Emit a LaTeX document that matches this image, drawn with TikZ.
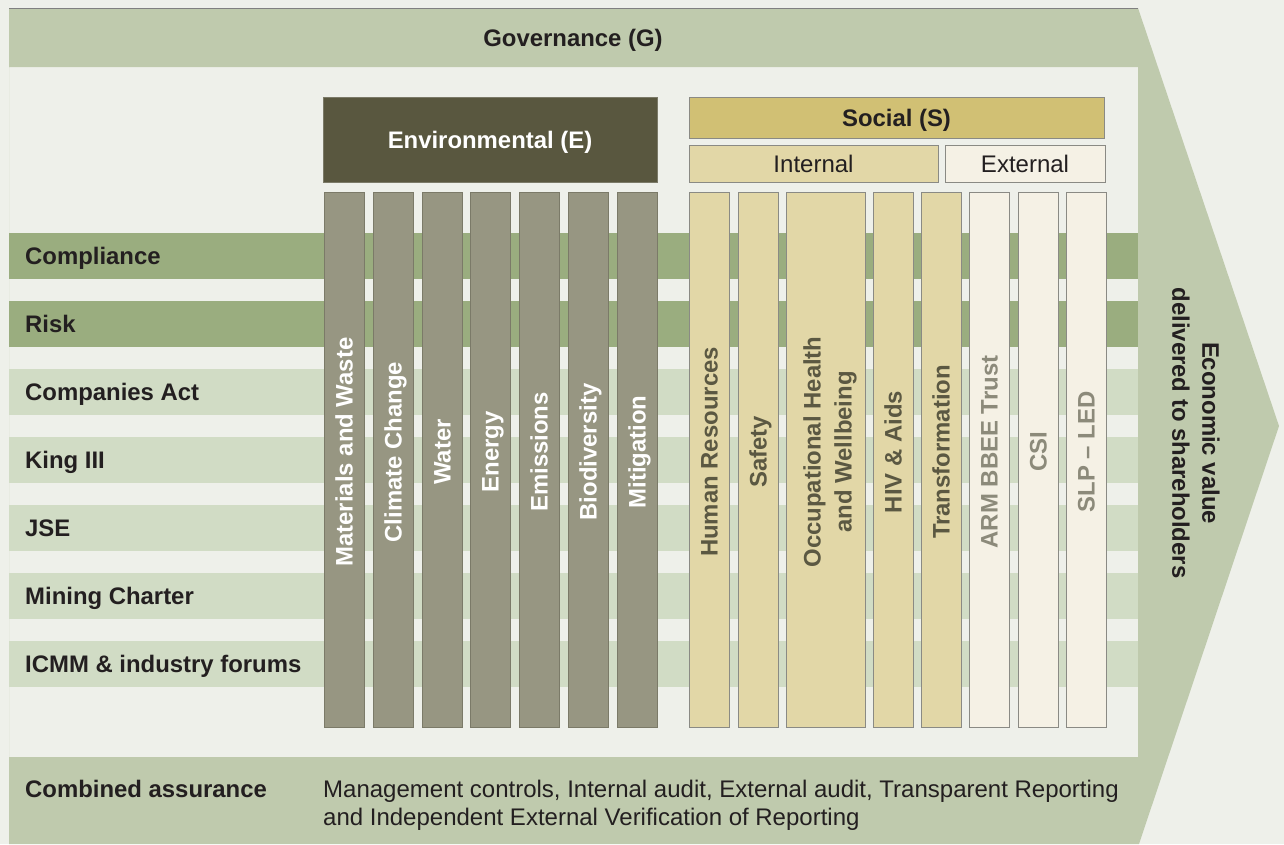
\documentclass[tikz,border=0pt]{standalone}
\usepackage{fontspec}
\setmainfont{Liberation Sans}
\definecolor{bgc}{HTML}{EEF0EA}
\definecolor{chev}{HTML}{BFCAAD}
\definecolor{rowdk}{HTML}{9AAD7F}
\definecolor{rowlt}{HTML}{D1DCC5}
\definecolor{envhd}{HTML}{59573F}
\definecolor{envcl}{HTML}{979682}
\definecolor{envln}{HTML}{7B7A68}
\definecolor{sochd}{HTML}{D1C074}
\definecolor{socin}{HTML}{E2D7A7}
\definecolor{socex}{HTML}{F5F1E5}
\definecolor{socln}{HTML}{8A8A84}
\definecolor{txt}{HTML}{231F20}
\definecolor{soctx}{HTML}{5B5842}
\definecolor{extx}{HTML}{8C8A7A}
\tikzset{
  bfnt/.style={font=\fontsize{23.9}{28}\selectfont\bfseries},
  rfnt/.style={font=\fontsize{24}{28}\selectfont},
  capbox/.style={inner sep=0pt, text height=17.1pt, text depth=0pt},
  lbl/.style={bfnt, text=txt, anchor=west, capbox},
  rowbox/.style={anchor=north west, minimum width=1129, minimum height=46, inner sep=0pt, draw=none},
  envcol/.style={fill=envcl, draw=envln, line width=1pt, minimum width=40, minimum height=535, inner sep=0pt},
  intcol/.style={fill=socin, draw=socln, line width=1pt, minimum height=535, inner sep=0pt},
  extcol/.style={fill=socex, draw=socln, line width=1pt, minimum width=40, minimum height=535, inner sep=0pt},
  coltxt/.style={rotate=90, font=\fontsize{23.9}{31}\selectfont\bfseries, capbox, align=center},
}
\begin{document}
\begin{tikzpicture}[x=1pt,y=-1pt]
\useasboundingbox (0,0) rectangle (1284,844);
\fill[bgc] (0,0) rectangle (1284,844);
% chevron frame
\fill[chev, even odd rule] (9,8) -- (1138,8) -- (1279,426) -- (1139,844) -- (9,844) -- cycle
  (9,67) rectangle (1138,757);
\draw[gray, line width=1pt] (9,8) -- (1138,8);
\node[bfnt, capbox, text=txt] (gov) at (573,38) {Governance (G)};
% rows
\foreach \n/\y/\c/\t in {comp/233/rowdk/Compliance, risk/301/rowdk/Risk, cact/369/rowlt/Companies Act, king/437/rowlt/King III, jse/505/rowlt/JSE, mine/573/rowlt/Mining Charter, icmm/641/rowlt/ICMM \& industry forums}{
  \node[rowbox, fill=\c] (\n) at (9,\y) {};
  \node[lbl] (\n-l) at (25,\y+23) {\t};
}
% environmental
\node[fill=envhd, draw=envln, line width=1pt, minimum width=334, minimum height=85, inner sep=0pt] (env) at (490,139.5) {};
\node[bfnt, capbox, text=white] (env-t) at (490,140) {Environmental (E)};
\foreach \n/\x/\t in {e1/324/Materials and Waste, e2/373/Climate Change, e3/422/Water, e4/470/Energy, e5/519/Emissions, e6/568/Biodiversity, e7/617/Mitigation}{
  \node[envcol] (\n) at (\x+20,459.5) {};
  \node[coltxt, text=white] (\n-t) at (\x+20,452) {\t};
}
% social
\node[fill=sochd, draw=socln, line width=1pt, minimum width=415, minimum height=41, inner sep=0pt] (soc) at (896.5,117.5) {};
\node[bfnt, capbox, text=txt] (soc-t) at (896.5,118) {Social (S)};
\node[fill=socin, draw=socln, line width=1pt, minimum width=249, minimum height=37, inner sep=0pt] (int) at (813.5,163.5) {};
\node[rfnt, capbox, text=txt] (int-t) at (813.5,163.5) {Internal};
\node[fill=socex, draw=socln, line width=1pt, minimum width=160, minimum height=37, inner sep=0pt] (ext) at (1025,163.5) {};
\node[rfnt, capbox, text=txt] (ext-t) at (1025,163.5) {External};
\foreach \n/\x/\w/\t in {s1/689/40/Human Resources, s2/738/40/Safety, s4/873/40/HIV \& Aids, s5/921/40/Transformation}{
  \node[intcol, minimum width=\w] (\n) at (\x+\w/2,459.5) {};
  \node[coltxt, text=soctx] (\n-t) at (\x+\w/2,452) {\t};
}
\node[intcol, minimum width=79] (s3) at (825.5,459.5) {};
\node[coltxt, text=soctx] (s3-t) at (843,452) {Occupational Health\\and Wellbeing};
\foreach \n/\x/\t in {x1/969/ARM BBEE Trust, x2/1018/CSI, x3/1066/SLP – LED}{
  \node[extcol] (\n) at (\x+20,459.5) {};
  \node[coltxt, text=extx] (\n-t) at (\x+20,452) {\t};
}
% economic value
\node[rotate=-90, font=\fontsize{23.9}{30}\selectfont\bfseries, text=txt, align=center, inner sep=0pt] (econ) at (1196,433) {Economic value\\delivered to shareholders};
% combined assurance
\node[lbl] (ca) at (25,789) {Combined assurance};
\node[anchor=base west, rfnt, capbox, text=txt, align=left] (cat) at (323,825.5) {Management controls, Internal audit, External audit, Transparent Reporting\\and Independent External Verification of Reporting};
\end{tikzpicture}
\end{document}
